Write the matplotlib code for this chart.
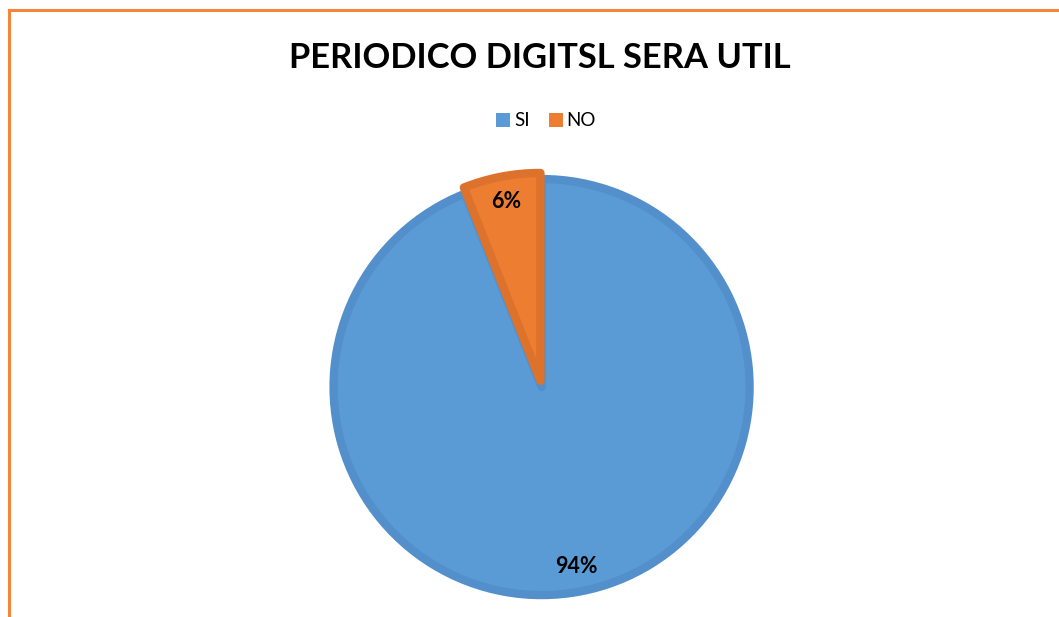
import matplotlib
matplotlib.use("Agg")
import matplotlib.pyplot as plt
from matplotlib.lines import Line2D
from matplotlib.patches import Rectangle

# data
labels = ["SI", "NO"]
values = [94, 6]
colors = ["#5B9BD5", "#ED7D31"]
edges = ["#5390CB", "#DC722C"]
title = "PERIODICO DIGITSL SERA UTIL"

W, H = 1059, 617
fig = plt.figure(figsize=(W / 100, H / 100), dpi=100)
fig.patch.set_facecolor("white")

# orange frame (left + top, bottom/right cut off like the source)
fig.add_artist(Line2D([9 / W, 9 / W], [0, 1 - 10 / H], color="#F4863B", lw=2.2))
fig.add_artist(Line2D([9 / W, 1], [1 - 10 / H, 1 - 10 / H], color="#F4863B", lw=2.2))

# pie axes, centred on the pie
cx, cy, R = 541, 384, 208
half = 300
ax = fig.add_axes([(cx - half) / W, (H - cy - half) / H, 2 * half / W, 2 * half / H])

wedges, texts, autotexts = ax.pie(
    values, colors=colors, startangle=90, counterclock=False,
    explode=[0.015, 0.015], autopct="%1.0f%%", pctdistance=0.88,
    wedgeprops=dict(linewidth=6, joinstyle="round"),
    textprops=dict(fontsize=15.5, fontweight="bold", family="Lato", color="black"))
for w, ec in zip(wedges, edges):
    w.set_edgecolor(ec)

ax.set_xlim(-half / R, half / R)
ax.set_ylim(-half / R, half / R)
ax.set_aspect("equal")
ax.axis("off")

fig.text(540 / W, 1 - 58 / H, title, ha="center", va="center",
         fontsize=24.8, fontweight="bold", family="Lato", color="black")

# legend
handles = [Rectangle((0, 0), 1, 1, facecolor=c, edgecolor="none") for c in colors]
fig.legend(handles, labels, loc="center", bbox_to_anchor=(546 / W, 1 - 121 / H),
           ncol=2, frameon=False, prop=dict(family="Lato", size=13.5),
           handlelength=0.75, handleheight=0.75, handletextpad=0.2, columnspacing=1.0)

fig.savefig("out.png", dpi=100)
